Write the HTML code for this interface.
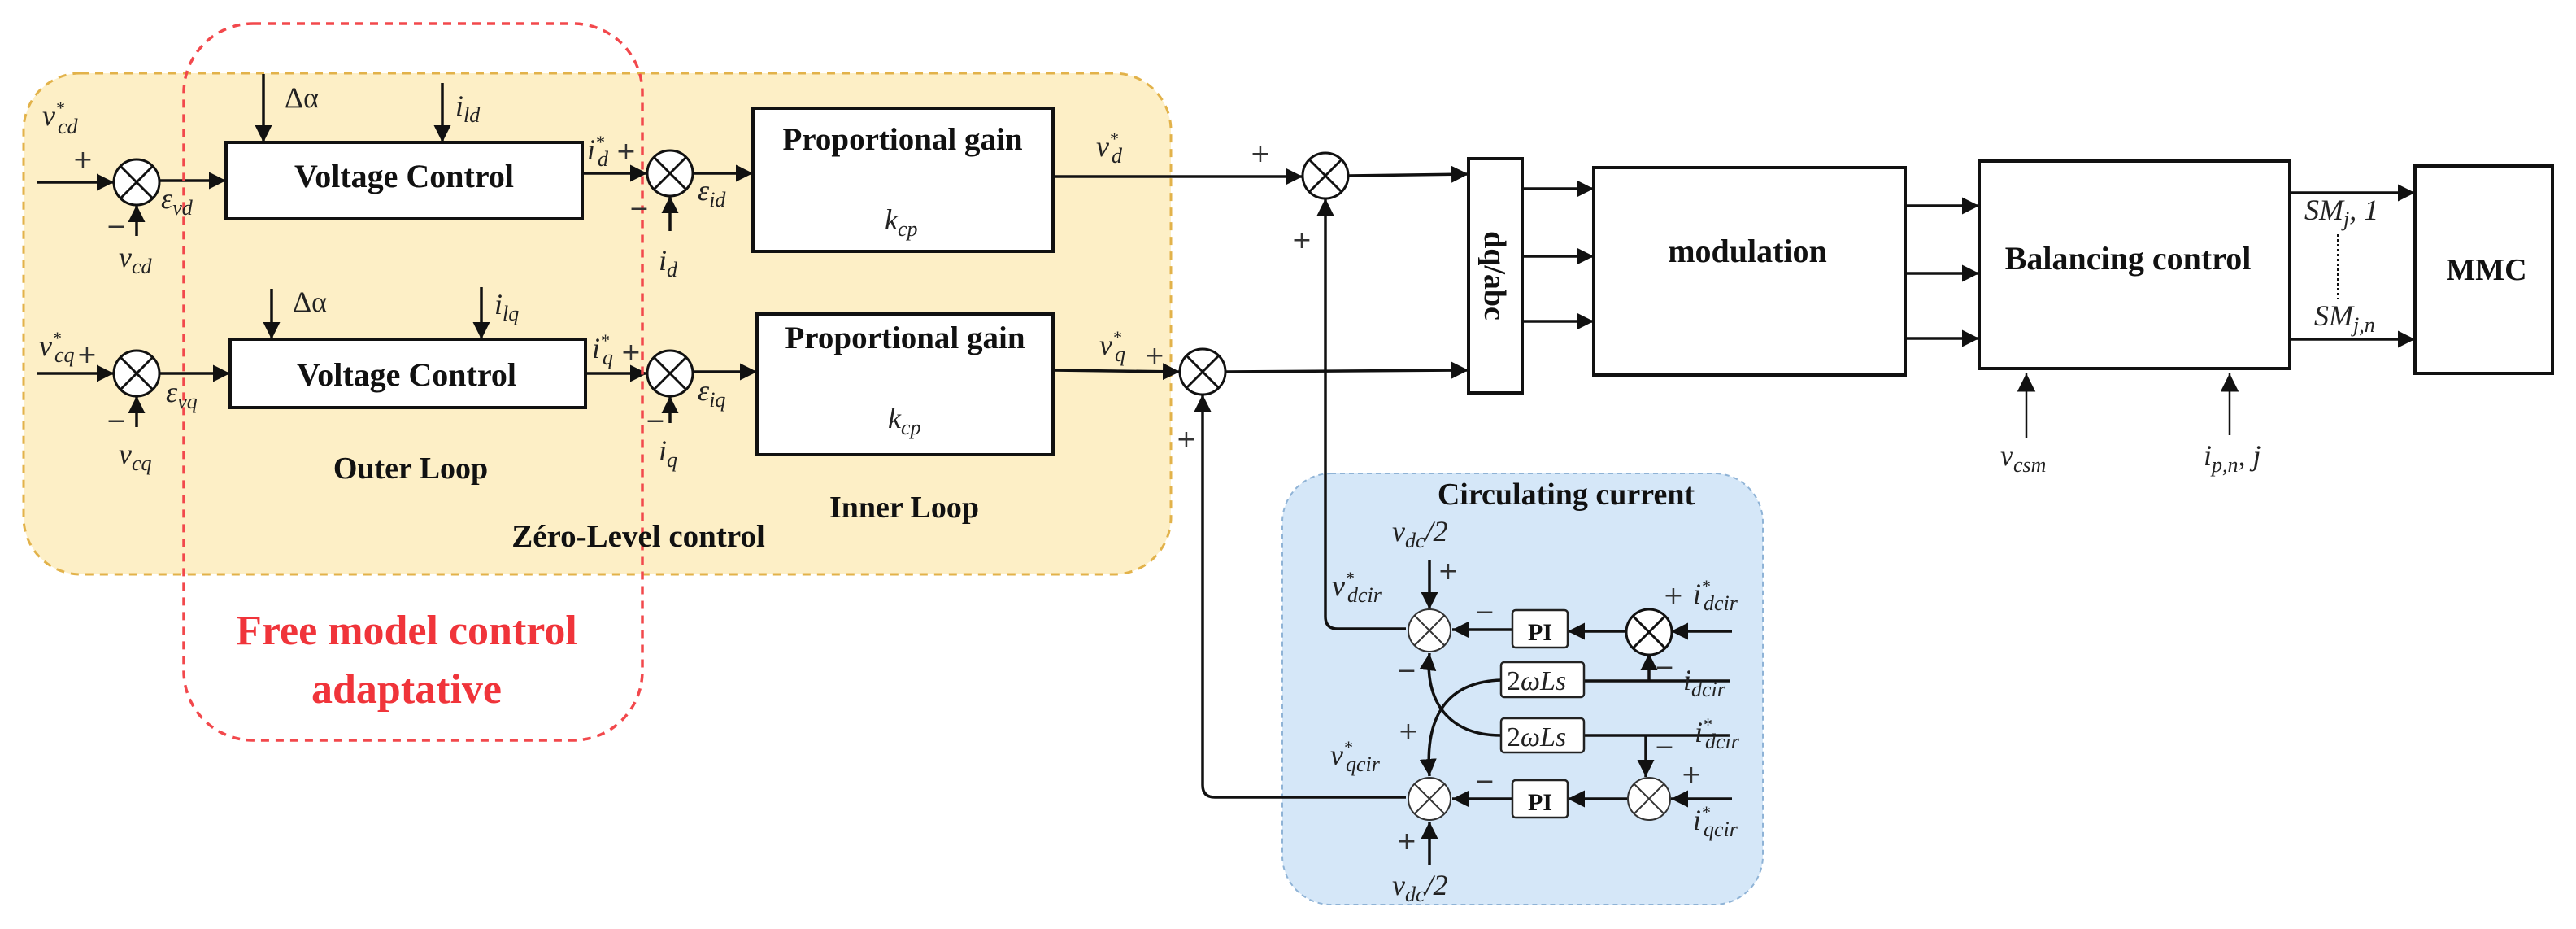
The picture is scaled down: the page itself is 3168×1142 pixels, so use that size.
<!DOCTYPE html>
<html><head><meta charset="utf-8"><style>
html,body{margin:0;padding:0;background:#fff;}
svg{display:block;}
.b{font-family:"Liberation Serif",serif;font-weight:bold;fill:#111;}
.m{font-family:"Liberation Serif",serif;font-style:italic;fill:#222;}
.p{font-family:"DejaVu Sans",sans-serif;fill:#333;}
</style></head><body>
<svg width="3168" height="1142" viewBox="0 0 3168 1142" xmlns="http://www.w3.org/2000/svg">
<defs>
<marker id="a" viewBox="0 0 10 10" refX="10" refY="5" markerWidth="6" markerHeight="6" orient="auto-start-reverse" markerUnits="strokeWidth">
<path d="M0,0 L10,5 L0,10 z" fill="#111"/></marker>
<marker id="t" viewBox="0 0 10 10" refX="10" refY="5" markerWidth="9" markerHeight="9" orient="auto" markerUnits="strokeWidth">
<path d="M0,0 L10,5 L0,10 z" fill="#111"/></marker>
<g id="s"><circle r="28" fill="#fff" stroke="#111" stroke-width="3"/><path d="M-20,-20 L20,20 M20,-20 L-20,20" stroke="#111" stroke-width="3"/></g>
<g id="ss"><circle r="26" fill="#fff" stroke="#333" stroke-width="2"/><path d="M-18,-18 L18,18 M18,-18 L-18,18" stroke="#333" stroke-width="2"/></g>
</defs>

<rect x="29" y="90" width="1411" height="616" rx="70" fill="#fdefc6" stroke="#e2b24a" stroke-width="3" stroke-dasharray="10,8"/>
<rect x="1577" y="582" width="591" height="530" rx="60" fill="#d5e7f8" stroke="#8fb3d6" stroke-width="2" stroke-dasharray="6,5"/>

<g stroke="#111" stroke-width="3.5" fill="none">
<line x1="46" y1="224" x2="140" y2="224" marker-end="url(#a)"/>
<line x1="196" y1="222" x2="278" y2="222" marker-end="url(#a)"/>
<line x1="168" y1="290" x2="168" y2="252" marker-end="url(#a)"/>
<line x1="324" y1="91" x2="324" y2="175" marker-end="url(#a)"/>
<line x1="544" y1="102" x2="544" y2="175" marker-end="url(#a)"/>
<line x1="716" y1="213" x2="796" y2="213" marker-end="url(#a)"/>
<line x1="824" y1="284" x2="824" y2="241" marker-end="url(#a)"/>
<line x1="852" y1="213" x2="926" y2="213" marker-end="url(#a)"/>
<line x1="1290" y1="217" x2="1602" y2="217" marker-end="url(#a)"/>
<line x1="46" y1="459" x2="140" y2="459" marker-end="url(#a)"/>
<line x1="196" y1="459" x2="283" y2="459" marker-end="url(#a)"/>
<line x1="168" y1="525" x2="168" y2="487" marker-end="url(#a)"/>
<line x1="334" y1="355" x2="334" y2="417" marker-end="url(#a)"/>
<line x1="592" y1="353" x2="592" y2="417" marker-end="url(#a)"/>
<line x1="720" y1="459" x2="796" y2="459" marker-end="url(#a)"/>
<line x1="824" y1="520" x2="824" y2="487" marker-end="url(#a)"/>
<line x1="852" y1="457" x2="931" y2="457" marker-end="url(#a)"/>
<line x1="1295" y1="455" x2="1451" y2="457" marker-end="url(#a)"/>
<line x1="1658" y1="216" x2="1806" y2="214" marker-end="url(#a)"/>
<line x1="1507" y1="457" x2="1806" y2="455" marker-end="url(#a)"/>
<path d="M1729,773 L1645,773 Q1630,773 1630,758 L1630,244" marker-end="url(#a)"/>
<path d="M1729,980 L1494,980 Q1479,980 1479,965 L1479,485" marker-end="url(#a)"/>
<line x1="1872" y1="232" x2="1960" y2="232" marker-end="url(#a)"/>
<line x1="1872" y1="315" x2="1960" y2="315" marker-end="url(#a)"/>
<line x1="1872" y1="395" x2="1960" y2="395" marker-end="url(#a)"/>
<line x1="2343" y1="253" x2="2434" y2="253" marker-end="url(#a)"/>
<line x1="2343" y1="336" x2="2434" y2="336" marker-end="url(#a)"/>
<line x1="2343" y1="416" x2="2434" y2="416" marker-end="url(#a)"/>
<line x1="2816" y1="237" x2="2970" y2="237" marker-end="url(#a)"/>
<line x1="2816" y1="417" x2="2970" y2="417" marker-end="url(#a)"/>
</g>
<g stroke="#111" stroke-width="2.5" fill="none">
<line x1="2492" y1="539" x2="2492" y2="459" marker-end="url(#t)"/>
<line x1="2742" y1="535" x2="2742" y2="459" marker-end="url(#t)"/>
<line x1="2875" y1="288" x2="2875" y2="368" stroke-dasharray="3,3" stroke-width="2"/>
</g>

<g stroke="#111" stroke-width="3.5" fill="none">
<line x1="1758" y1="688" x2="1758" y2="749" marker-end="url(#a)"/>
<line x1="1860" y1="774" x2="1786" y2="774" marker-end="url(#a)"/>
<line x1="2002" y1="776" x2="1928" y2="776" marker-end="url(#a)"/>
<line x1="2130" y1="776" x2="2055" y2="776" marker-end="url(#a)"/>
<line x1="1948" y1="837" x2="2128" y2="837"/>
<line x1="2028" y1="837" x2="2028" y2="803" marker-end="url(#a)"/>
<line x1="1948" y1="904" x2="2128" y2="904"/>
<line x1="2024" y1="904" x2="2024" y2="955" marker-end="url(#a)"/>
<line x1="2130" y1="982" x2="2055" y2="982" marker-end="url(#a)"/>
<line x1="2002" y1="982" x2="1928" y2="982" marker-end="url(#a)"/>
<line x1="1860" y1="982" x2="1786" y2="982" marker-end="url(#a)"/>
<line x1="1758" y1="1063" x2="1758" y2="1010" marker-end="url(#a)"/>
<path d="M1846,836 C1780,838 1752,880 1758,954" marker-end="url(#a)"/>
<path d="M1846,904 C1780,904 1752,860 1758,803" marker-end="url(#a)"/>
</g>

<g fill="#fff" stroke="#111" stroke-width="4">
<rect x="278" y="175" width="438" height="94"/>
<rect x="283" y="417" width="437" height="84"/>
<rect x="926" y="133" width="369" height="176"/>
<rect x="931" y="386" width="364" height="173"/>
<rect x="1806" y="195" width="66" height="288"/>
<rect x="1960" y="206" width="383" height="255"/>
<rect x="2434" y="198" width="382" height="255"/>
<rect x="2970" y="204" width="169" height="255"/>
</g>
<g fill="#fff" stroke="#222" stroke-width="2.5">
<rect x="1860" y="750" width="68" height="46" rx="4"/>
<rect x="1860" y="959" width="68" height="46" rx="4"/>
<rect x="1846" y="814" width="102" height="43" rx="4"/>
<rect x="1846" y="883" width="102" height="42" rx="4"/>
</g>

<use href="#s" x="168" y="224"/><use href="#s" x="824" y="213"/>
<use href="#s" x="168" y="459"/><use href="#s" x="824" y="459"/>
<use href="#s" x="1630" y="216"/><use href="#s" x="1479" y="457"/>
<use href="#ss" x="1758" y="775"/><use href="#s" x="2028" y="777"/>
<use href="#ss" x="1758" y="982"/><use href="#ss" x="2028" y="982"/>

<rect x="226" y="29" width="564" height="881" rx="85" fill="none" stroke="#f2484c" stroke-width="3.5" stroke-dasharray="10,8"/>

<g class="b" text-anchor="middle">
<text x="497" y="230" font-size="40">Voltage Control</text>
<text x="500" y="474" font-size="40">Voltage Control</text>
<text x="1110" y="184" font-size="39">Proportional gain</text>
<text x="1113" y="428" font-size="39">Proportional gain</text>
<text x="505" y="588" font-size="38">Outer Loop</text>
<text x="1112" y="636" font-size="38">Inner Loop</text>
<text x="785" y="672" font-size="39">Zéro-Level control</text>
<text x="2149" y="322" font-size="40">modulation</text>
<text x="2617" y="331" font-size="40">Balancing control</text>
<text x="3058" y="344" font-size="38">MMC</text>
<text x="1926" y="620" font-size="38">Circulating current</text>
<text x="1894" y="787" font-size="30">PI</text>
<text x="1894" y="996" font-size="30">PI</text>
<text x="500" y="792" font-size="52" style="fill:#f0343a">Free model control</text>
<text x="500" y="864" font-size="52" style="fill:#f0343a">adaptative</text>
<text font-size="38" transform="translate(1826,339) rotate(90)">dq/abc</text>
</g>

<g class="m" font-size="36">
<text x="52" y="154">v<tspan font-size="22" dy="-14">*</tspan><tspan font-size="26" dx="-8" dy="24">cd</tspan></text>
<text x="146" y="328">v<tspan font-size="26" dy="8">cd</tspan></text>
<text x="198" y="256">ε<tspan font-size="26" dy="8">vd</tspan></text>
<text x="350" y="132" style="font-style:normal">Δα</text>
<text x="560" y="142">i<tspan font-size="26" dy="8">ld</tspan></text>
<text x="722" y="196">i<tspan font-size="22" dy="-14">*</tspan><tspan font-size="26" dx="-8" dy="22">d</tspan></text>
<text x="810" y="332">i<tspan font-size="26" dy="8">d</tspan></text>
<text x="858" y="246">ε<tspan font-size="26" dy="8">id</tspan></text>
<text x="1088" y="282">k<tspan font-size="26" dy="8">cp</tspan></text>
<text x="1348" y="192">v<tspan font-size="22" dy="-14">*</tspan><tspan font-size="26" dx="-8" dy="22">d</tspan></text>

<text x="48" y="437">v<tspan font-size="22" dy="-14">*</tspan><tspan font-size="26" dx="-8" dy="22">cq</tspan></text>
<text x="146" y="570">v<tspan font-size="26" dy="8">cq</tspan></text>
<text x="204" y="494">ε<tspan font-size="26" dy="8">vq</tspan></text>
<text x="360" y="383" style="font-style:normal">Δα</text>
<text x="608" y="386">i<tspan font-size="26" dy="8">lq</tspan></text>
<text x="728" y="440">i<tspan font-size="22" dy="-14">*</tspan><tspan font-size="26" dx="-8" dy="22">q</tspan></text>
<text x="810" y="566">i<tspan font-size="26" dy="8">q</tspan></text>
<text x="858" y="492">ε<tspan font-size="26" dy="8">iq</tspan></text>
<text x="1092" y="526">k<tspan font-size="26" dy="8">cp</tspan></text>
<text x="1352" y="436">v<tspan font-size="22" dy="-14">*</tspan><tspan font-size="26" dx="-8" dy="22">q</tspan></text>

<text x="2460" y="572">v<tspan font-size="26" dy="8">csm</tspan></text>
<text x="2710" y="572">i<tspan font-size="26" dy="8">p,n</tspan><tspan dy="-8">, j</tspan></text>
<text x="2834" y="270">SM<tspan font-size="26" dy="8">j</tspan><tspan dy="-8">, 1</tspan></text>
<text x="2846" y="400">SM<tspan font-size="26" dy="8">j,n</tspan></text>

<text x="1712" y="665">v<tspan font-size="26" dy="8">dc</tspan><tspan dy="-8">/2</tspan></text>
<text x="1638" y="732">v<tspan font-size="22" dy="-14">*</tspan><tspan font-size="26" dx="-8" dy="22">dcir</tspan></text>
<text x="2082" y="742">i<tspan font-size="22" dy="-14">*</tspan><tspan font-size="26" dx="-8" dy="22">dcir</tspan></text>
<text x="2070" y="848">i<tspan font-size="26" dy="8">dcir</tspan></text>
<text x="2084" y="912">i<tspan font-size="22" dy="-14">*</tspan><tspan font-size="26" dx="-8" dy="22">dcir</tspan></text>
<text x="1636" y="940">v<tspan font-size="22" dy="-14">*</tspan><tspan font-size="26" dx="-8" dy="22">qcir</tspan></text>
<text x="2082" y="1020">i<tspan font-size="22" dy="-14">*</tspan><tspan font-size="26" dx="-8" dy="22">qcir</tspan></text>
<text x="1712" y="1100">v<tspan font-size="26" dy="8">dc</tspan><tspan dy="-8">/2</tspan></text>
<text x="1853" y="848" font-size="34" style="font-style:normal">2<tspan font-style="italic">ωLs</tspan></text>
<text x="1853" y="917" font-size="34" style="font-style:normal">2<tspan font-style="italic">ωLs</tspan></text>
</g>

<g class="p" font-size="30" text-anchor="middle">
<text x="102" y="206">+</text><text x="143" y="288">−</text>
<text x="770" y="196">+</text><text x="786" y="266">−</text>
<text x="107" y="446">+</text><text x="143" y="527">−</text>
<text x="776" y="443">+</text><text x="806" y="527">−</text>
<text x="1550" y="199">+</text><text x="1601" y="305">+</text>
<text x="1420" y="447">+</text><text x="1459" y="550">+</text>
<text x="1781" y="712">+</text><text x="1826" y="762">−</text>
<text x="2058" y="742">+</text><text x="2047" y="830">−</text>
<text x="1730" y="834">−</text><text x="1732" y="909">+</text>
<text x="2047" y="928">−</text><text x="2080" y="962">+</text>
<text x="1826" y="970">−</text><text x="1730" y="1044">+</text>
</g>
</svg>
</body></html>
